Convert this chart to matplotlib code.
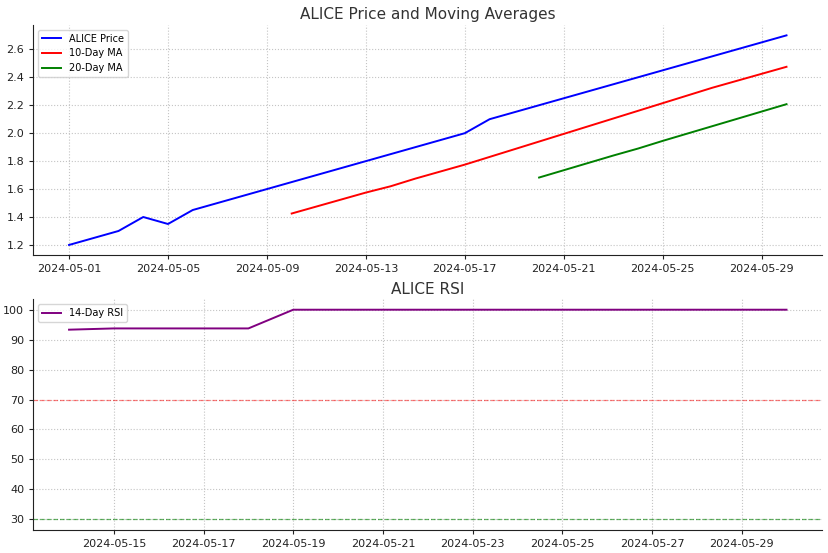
import numpy as np
import pandas as pd
import matplotlib
matplotlib.use("Agg")
import matplotlib.pyplot as plt
import matplotlib.dates as mdates

# price data
dates = pd.date_range("2024-05-01", "2024-05-30", freq="D")
price = [1.20, 1.25, 1.30, 1.40, 1.35, 1.45, 1.50, 1.55, 1.60, 1.65,
         1.70, 1.75, 1.80, 1.85, 1.90, 1.95, 2.00, 2.10, 2.15, 2.20,
         2.25, 2.30, 2.35, 2.40, 2.45, 2.50, 2.55, 2.60, 2.65, 2.70]

# 10-day MA, from 05-10
ma10_dates = pd.date_range("2024-05-10", "2024-05-30", freq="D")
ma10 = [1.425, 1.475, 1.525, 1.575, 1.620, 1.675, 1.725, 1.775, 1.830, 1.885,
        1.940, 1.995, 2.050, 2.105, 2.160, 2.215, 2.270, 2.325, 2.375, 2.425, 2.475]

# 20-day MA, from 05-20
ma20_dates = pd.date_range("2024-05-20", "2024-05-30", freq="D")
ma20 = [1.6825, 1.735, 1.7875, 1.840, 1.890, 1.945, 1.9975, 2.050, 2.1025, 2.155, 2.2075]

# 14-day RSI, from 05-14
rsi_dates = pd.date_range("2024-05-14", "2024-05-30", freq="D")
rsi = [93.33, 93.75, 93.75, 93.75, 93.75, 100, 100, 100, 100, 100,
       100, 100, 100, 100, 100, 100, 100]

overbought = 70
oversold = 30

fig, (ax1, ax2) = plt.subplots(2, 1, figsize=(8.29, 5.53), dpi=100)
fig.subplots_adjust(left=0.04, right=0.992, top=0.955, bottom=0.042, hspace=0.19)

ax1.plot(dates, price, color="blue", lw=1.4, label="ALICE Price")
ax1.plot(ma10_dates, ma10, color="red", lw=1.4, label="10-Day MA")
ax1.plot(ma20_dates, ma20, color="green", lw=1.4, label="20-Day MA")
ax1.set_title("ALICE Price and Moving Averages", fontsize=11, color="#333333", pad=4)
ax1.legend(loc="upper left", fontsize=7)
ax1.xaxis.set_major_locator(mdates.DayLocator(bymonthday=[1, 5, 9, 13, 17, 21, 25, 29]))
ax1.xaxis.set_major_formatter(mdates.DateFormatter("%Y-%m-%d"))

ax2.plot(rsi_dates, rsi, color="purple", lw=1.4, label="14-Day RSI")
ax2.axhline(overbought, color="red", ls="--", lw=0.9, alpha=0.5)
ax2.axhline(oversold, color="green", ls="--", lw=0.9, alpha=0.6)
ax2.set_title("ALICE RSI", fontsize=11, color="#333333", pad=4)
ax2.legend(loc="upper left", fontsize=7)
ax2.xaxis.set_major_locator(mdates.DayLocator(bymonthday=list(range(1, 32, 2))))
ax2.xaxis.set_major_formatter(mdates.DateFormatter("%Y-%m-%d"))

for ax in (ax1, ax2):
    ax.grid(True, ls=":", color="#c4c4c4", lw=0.8)
    ax.spines["top"].set_visible(False)
    ax.spines["right"].set_visible(False)
    ax.spines["left"].set_color("#222222")
    ax.spines["bottom"].set_color("#222222")
    ax.tick_params(labelsize=8, colors="#222222", length=3)

fig.savefig("out.png", dpi=100)
